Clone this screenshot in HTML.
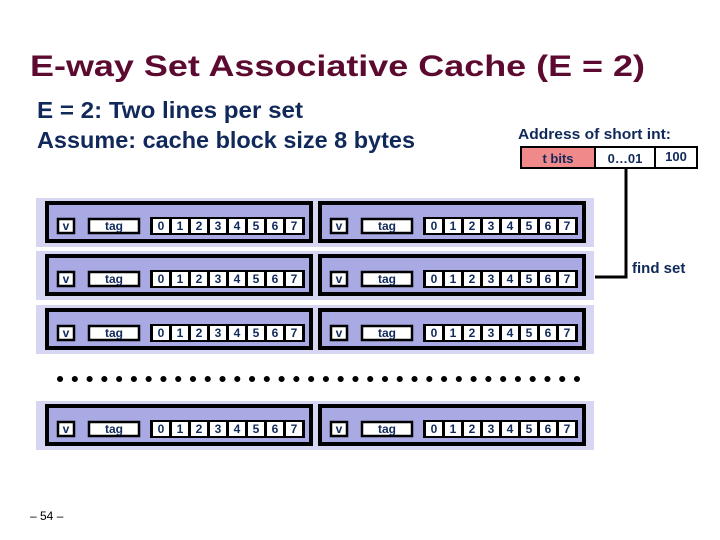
<!DOCTYPE html>
<html><head><meta charset="utf-8"><style>
html,body{margin:0;padding:0;background:#fff;}
svg{display:block;}
text{font-family:"Liberation Sans",sans-serif;}
</style></head><body>
<svg width="720" height="540" viewBox="0 0 720 540" xmlns="http://www.w3.org/2000/svg">
<text x="30" y="76" font-size="30" font-weight="bold" fill="#5c0a30" textLength="615" lengthAdjust="spacingAndGlyphs">E-way Set Associative Cache (E = 2)</text>
<text x="37" y="118" font-size="23" font-weight="bold" fill="#10295a" textLength="266" lengthAdjust="spacingAndGlyphs">E = 2: Two lines per set</text>
<text x="37" y="148" font-size="23" font-weight="bold" fill="#10295a" textLength="378" lengthAdjust="spacingAndGlyphs">Assume: cache block size 8 bytes</text>
<text x="518" y="139" font-size="15" font-weight="bold" fill="#10295a" textLength="153" lengthAdjust="spacingAndGlyphs">Address of short int:</text>
<rect x="521" y="147" width="74" height="21" fill="#f08a8a" stroke="#000" stroke-width="2"/>
<rect x="595" y="147" width="60" height="21" fill="#fff" stroke="#000" stroke-width="2"/>
<rect x="655" y="147" width="42" height="21" fill="#fff" stroke="#000" stroke-width="2"/>
<text x="558" y="163" font-size="13" font-weight="bold" fill="#10295a" text-anchor="middle">t bits</text>
<text x="625" y="163" font-size="13" font-weight="bold" fill="#10295a" text-anchor="middle">0…01</text>
<text x="676" y="161" font-size="13" font-weight="bold" fill="#10295a" text-anchor="middle">100</text>
<polyline points="626,168 626,277 595,277" fill="none" stroke="#000" stroke-width="3"/>
<text x="632" y="273" font-size="15" font-weight="bold" fill="#10295a">find set</text>
<defs>
<g id="line">
<rect x="0" y="0" width="264" height="38" fill="#a9a9e4" stroke="#000" stroke-width="4"/>
<rect x="11" y="16" width="16" height="14" fill="#fff" stroke="#000" stroke-width="2.5"/>
<text x="19" y="27" font-size="12" font-weight="bold" fill="#10295a" text-anchor="middle">v</text>
<rect x="42" y="16" width="50" height="14" fill="#fff" stroke="#000" stroke-width="2.5"/>
<text x="67" y="27" font-size="12" font-weight="bold" fill="#10295a" text-anchor="middle">tag</text>
<g font-size="12" font-weight="bold" fill="#10295a" text-anchor="middle">
<rect x="103" y="14" width="155" height="18" fill="#000"/>
<rect x="106" y="16" width="16" height="14" fill="#fff"/><text x="114" y="27">0</text>
<rect x="125" y="16" width="16" height="14" fill="#fff"/><text x="133" y="27">1</text>
<rect x="144" y="16" width="16" height="14" fill="#fff"/><text x="152" y="27">2</text>
<rect x="163" y="16" width="16" height="14" fill="#fff"/><text x="171" y="27">3</text>
<rect x="182" y="16" width="16" height="14" fill="#fff"/><text x="190" y="27">4</text>
<rect x="201" y="16" width="16" height="14" fill="#fff"/><text x="209" y="27">5</text>
<rect x="220" y="16" width="16" height="14" fill="#fff"/><text x="228" y="27">6</text>
<rect x="239" y="16" width="16" height="14" fill="#fff"/><text x="247" y="27">7</text>
</g>
</g>
<g id="set">
<rect x="36" y="0" width="558" height="49" fill="#d6d6f2"/>
<use href="#line" x="47" y="5"/>
<use href="#line" x="320" y="5"/>
</g>
</defs>
<use href="#set" x="0" y="198"/>
<use href="#set" x="0" y="251"/>
<use href="#set" x="0" y="305"/>
<use href="#set" x="0" y="401"/>
<line x1="60" y1="379" x2="577" y2="379" stroke="#000" stroke-width="6" stroke-linecap="round" stroke-dasharray="0.1,14.67"/>
<text x="30" y="520" font-size="12" fill="#000">– 54 –</text>
</svg>
</body></html>
